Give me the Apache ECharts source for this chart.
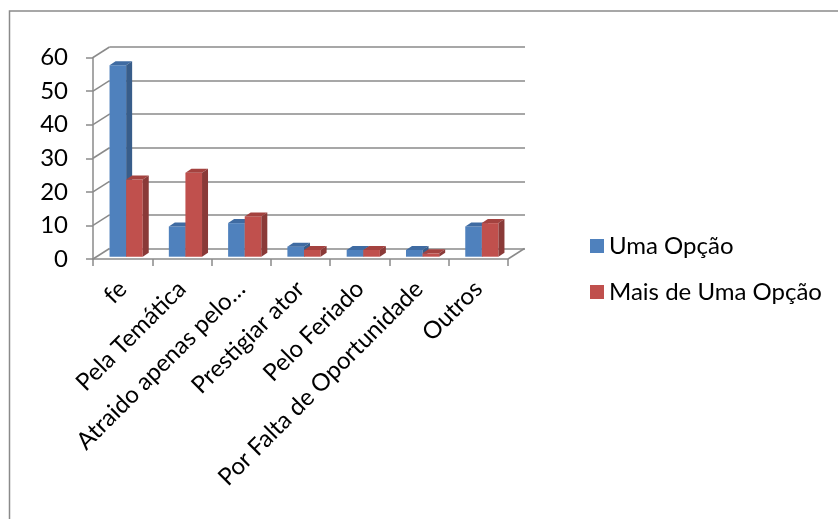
<!DOCTYPE html>
<html>
<head>
<meta charset="utf-8">
<script src="https://cdn.jsdelivr.net/npm/echarts@6/dist/echarts.min.js"></script>
<style>
  html, body { margin: 0; padding: 0; background: #fff; }
  #chart { width: 838px; height: 519px; }
</style>
</head>
<body>
<div id="chart"></div>
<script>
// Motivos de escolha: respostas com uma opção vs. mais de uma opção
const categories = ['fe', 'Pela Temática', 'Atraido apenas pelo…', 'Prestigiar ator', 'Pelo Feriado', 'Por Falta de Oportunidade', 'Outros'];
const umaOpcao = [57, 9, 10, 3, 2, 2, 9];
const maisDeUmaOpcao = [23, 25, 12, 2, 2, 1, 10];
const seriesNames = ['Uma Opção', 'Mais de Uma Opção'];
const yTicks = [0, 10, 20, 30, 40, 50, 60];

const FONT = 'Lato';
const GRID_COLOR = '#8a8a8a';
// depth of the 3D box (back wall offset) and of each bar
const WALL_DX = 16.5, WALL_DY = -10.5;
const BAR_OFF_DX = 3.5, BAR_OFF_DY = -2.3;
const BAR_DX = 6, BAR_DY = -4;

const faces = [
  { front: '#4F81BD', side: '#385D8A', top: '#3F6BA2' },
  { front: '#C0504D', side: '#8A3A38', top: '#A4423F' }
];

function barRenderer(seriesIdx) {
  return function (params, api) {
    const i = api.value(0);
    const v = api.value(1);
    const band = api.size([1, 0])[0];
    const barW = band * 0.28;
    const c = api.coord([i, 0]);
    const t = api.coord([i, v]);
    const x0 = (seriesIdx === 0 ? c[0] - barW : c[0]) + BAR_OFF_DX;
    const x1 = x0 + barW;
    const yB = c[1] + BAR_OFF_DY;
    const yT = t[1] + BAR_OFF_DY;
    const f = faces[seriesIdx];
    return {
      type: 'group',
      children: [
        { type: 'rect', shape: { x: x0, y: yT, width: barW, height: yB - yT }, style: { fill: f.front } },
        { type: 'polygon', shape: { points: [[x0, yT], [x1, yT], [x1 + BAR_DX, yT + BAR_DY], [x0 + BAR_DX, yT + BAR_DY]] }, style: { fill: f.top } },
        { type: 'polygon', shape: { points: [[x1, yT], [x1 + BAR_DX, yT + BAR_DY], [x1 + BAR_DX, yB + BAR_DY], [x1, yB]] }, style: { fill: f.side } }
      ]
    };
  };
}

// left wall diagonals at each tick, plus the floor's right edge
function wallRenderer(params, api) {
  const v = api.value(0);
  const cs = params.coordSys;
  const y = api.coord([0, v])[1];
  const children = [
    { type: 'line', shape: { x1: cs.x, y1: y, x2: cs.x + WALL_DX, y2: y + WALL_DY }, style: { stroke: GRID_COLOR, lineWidth: 1.5 } }
  ];
  if (v === 0) {
    const xr = cs.x + cs.width;
    children.push({ type: 'line', shape: { x1: xr, y1: y, x2: xr + WALL_DX, y2: y + WALL_DY }, style: { stroke: GRID_COLOR, lineWidth: 1.5 } });
  }
  return { type: 'group', children: children };
}

const chart = echarts.init(document.getElementById('chart'), null, { renderer: 'canvas' });
chart.setOption({
  animation: false,
  backgroundColor: '#fff',
  textStyle: { fontFamily: FONT },
  graphic: [
    { type: 'rect', shape: { x: 9.5, y: 11, width: 900, height: 600 }, style: { fill: 'none', stroke: '#8a8a8a', lineWidth: 1.5 }, z: 0 }
  ],
  legend: {
    orient: 'vertical',
    left: 585,
    top: 229,
    itemWidth: 14,
    itemHeight: 14,
    itemGap: 22,
    icon: 'rect',
    data: seriesNames,
    textStyle: { fontFamily: FONT, fontSize: 24, color: '#000', padding: [0, 0, 0, 0] }
  },
  grid: [
    { left: 93, right: 330, top: 57.5, bottom: 260 },
    { left: 109.5, right: 313, top: 47, bottom: 270.5 }
  ],
  xAxis: [
    {
      gridIndex: 0, type: 'category', data: categories,
      axisLine: { lineStyle: { color: GRID_COLOR, width: 1.5 } },
      axisTick: { show: true, length: 7, lineStyle: { color: GRID_COLOR, width: 1.5 } },
      axisLabel: { rotate: 45, margin: 26, interval: 0, color: '#000', fontFamily: FONT, fontSize: 24 }
    },
    { gridIndex: 1, type: 'category', data: categories, show: false }
  ],
  yAxis: [
    {
      gridIndex: 0, type: 'value', min: 0, max: 60, interval: 10,
      axisLine: { show: true, lineStyle: { color: GRID_COLOR, width: 1.5 } },
      axisTick: { show: true, length: 7, lineStyle: { color: GRID_COLOR, width: 1.5 } },
      splitLine: { show: false },
      axisLabel: { margin: 25, color: '#000', fontFamily: FONT, fontSize: 24 }
    },
    {
      gridIndex: 1, type: 'value', min: 0, max: 60, interval: 10,
      axisLine: { show: false }, axisTick: { show: false }, axisLabel: { show: false },
      splitLine: { show: true, lineStyle: { color: GRID_COLOR, width: 1.5 } }
    }
  ],
  series: [
    {
      type: 'custom', name: 'wall', xAxisIndex: 0, yAxisIndex: 0,
      data: yTicks.map(v => [v]), encode: { y: 0 }, renderItem: wallRenderer, silent: true, z: 1
    },
    {
      type: 'custom', name: seriesNames[0], xAxisIndex: 0, yAxisIndex: 0,
      itemStyle: { color: faces[0].front },
      data: umaOpcao.map((v, i) => [i, v]), encode: { x: 0, y: 1 },
      renderItem: barRenderer(0), z: 3
    },
    {
      type: 'custom', name: seriesNames[1], xAxisIndex: 0, yAxisIndex: 0,
      itemStyle: { color: faces[1].front },
      data: maisDeUmaOpcao.map((v, i) => [i, v]), encode: { x: 0, y: 1 },
      renderItem: barRenderer(1), z: 4
    }
  ]
});
</script>
</body>
</html>
